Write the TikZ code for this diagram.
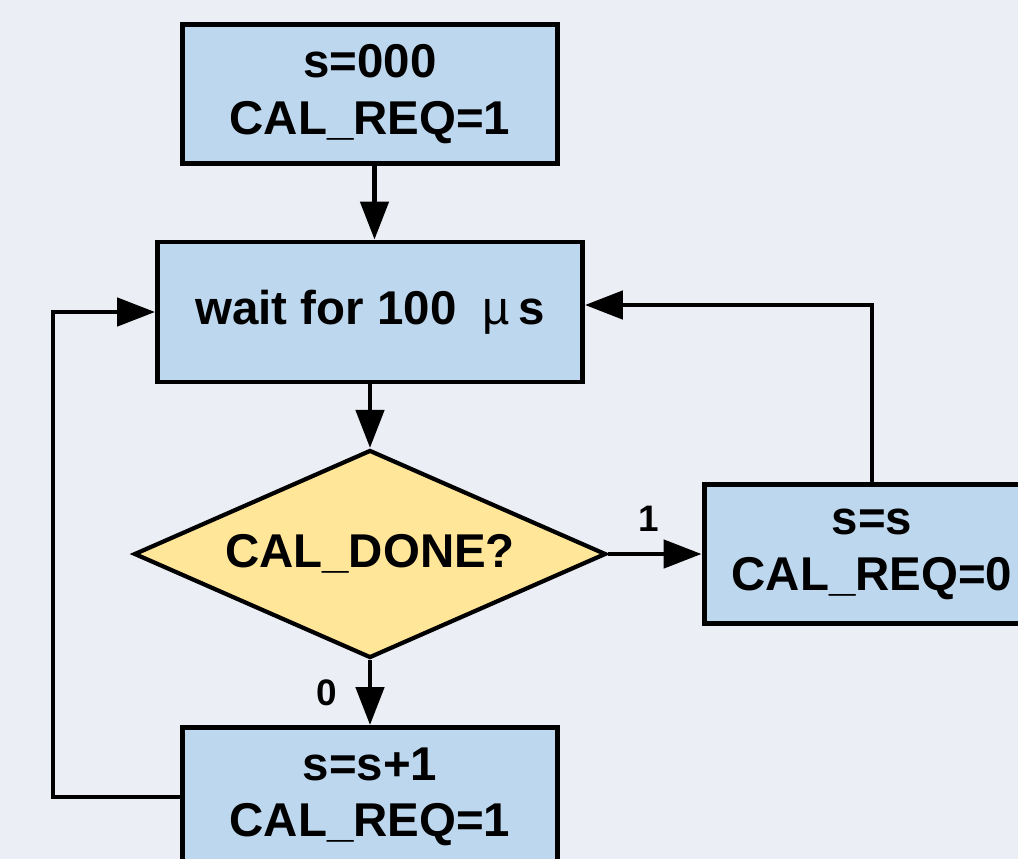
\documentclass[tikz,border=0pt]{standalone}
\usepackage{fontspec}
\setmainfont{Liberation Sans}
\usetikzlibrary{shapes.geometric,arrows.meta}
\definecolor{bgcol}{RGB}{235,238,245}
\definecolor{boxcol}{RGB}{189,215,238}
\definecolor{askcol}{RGB}{255,230,153}
\tikzset{
  block/.style={draw=black, line width=2.8pt, fill=boxcol, align=center, inner sep=0pt,
    font=\fontsize{27}{32}\selectfont\bfseries},
  ask/.style={draw=black, line width=2.4pt, fill=askcol, shape=diamond, aspect=2.27, inner sep=0pt,
    minimum width=9.44cm, minimum height=4.16cm, font=\fontsize{27}{32}\selectfont\bfseries},
  flow/.style={line width=2.7pt, -{Triangle[length=7.6mm, width=5.6mm]}},
  lbl/.style={inner sep=0pt, font=\fontsize{21}{24}\selectfont\bfseries}
}
\begin{document}
\begin{tikzpicture}[x=0.02cm, y=-0.02cm]
	\useasboundingbox (0,0) rectangle (1018,859);
	\clip (0,0) rectangle (1018,859);
	\fill[bgcol] (0,0) rectangle (1018,859);

	\node[block, minimum width=7.5cm, minimum height=2.78cm] (start) at (370,94) {s=000\\CAL\_REQ=1};
	\node[block, minimum width=8.5cm, minimum height=2.8cm] (wait) at (370,312) {wait for 100~~{\mdseries µ}\,s};
	\node[ask] (done) at (370,554) {CAL\_DONE?};
	\node[block, minimum width=6.72cm, minimum height=2.78cm] (keep) at (872,554) {s=s\\CAL\_REQ=0};
	\node[block, minimum width=7.5cm, minimum height=2.78cm] (next) at (370,797) {s=s+1\\CAL\_REQ=1};

	\draw[flow] ([xshift=0.09cm]start.south) -- ([xshift=0.09cm]wait.north);
	\draw[flow] (wait) -- (done);
	\draw[flow] (done.east) -- node[lbl, above=0.4cm, pos=0.43] {1} (keep.west);
	\draw[flow] (done.south) -- node[lbl, left=0.62cm] {0} (next.north);
	\draw[flow] (keep.north) |- ([yshift=0.14cm]wait.east);
	\draw[flow] (next.west) -- ++(-127,0) |- (wait.west);
\end{tikzpicture}
\end{document}
